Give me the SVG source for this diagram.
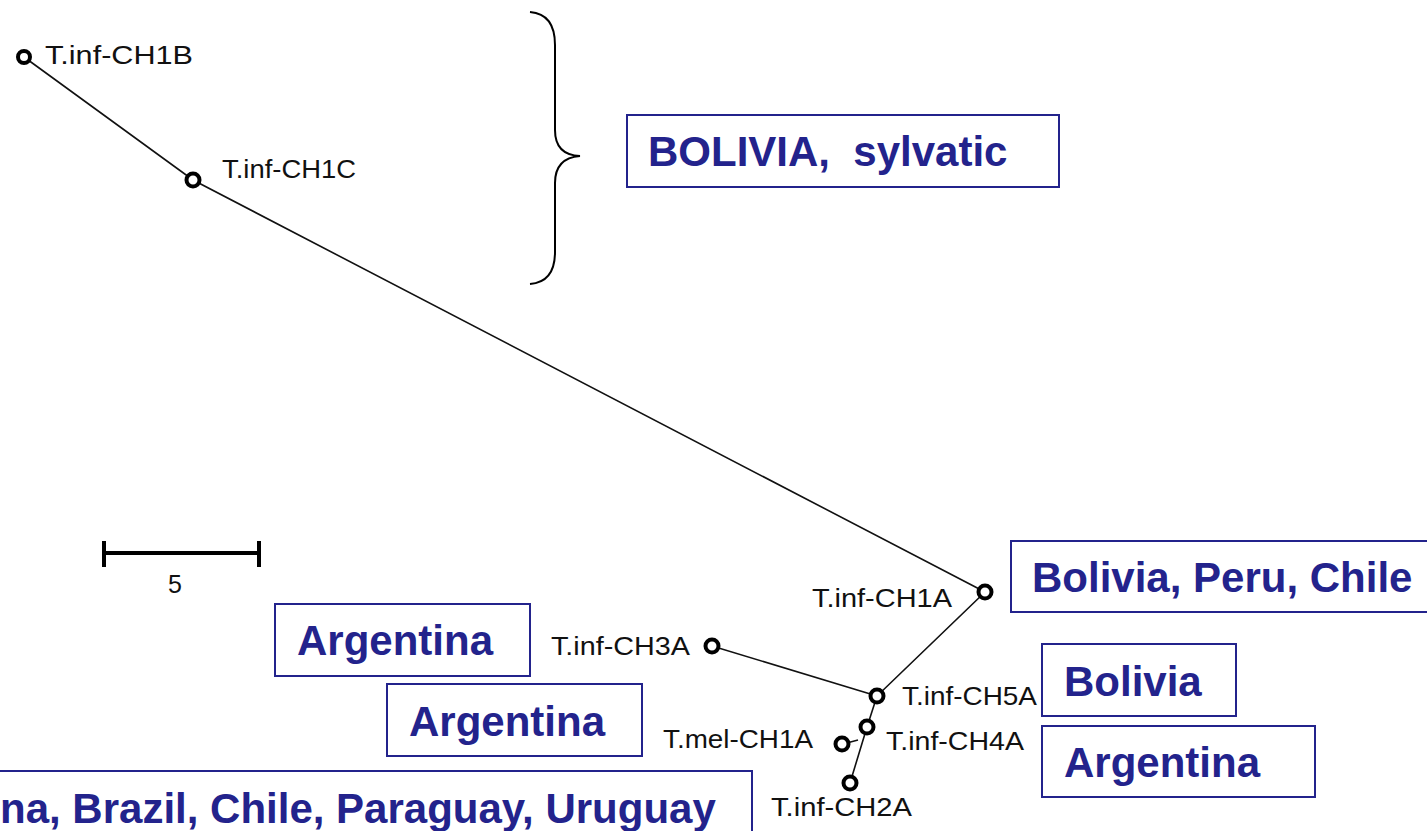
<svg xmlns="http://www.w3.org/2000/svg" width="1427" height="831" viewBox="0 0 1427 831">
<style>
.edge{stroke:#111;stroke-width:1.6;fill:none}
.node{fill:#fff;stroke:#000;stroke-width:4}
.lbl{font-family:"Liberation Sans",Arial,sans-serif;font-size:25px;fill:#111}
.box{fill:#fff;stroke:#23238c;stroke-width:2}
.big{font-family:"Liberation Sans",Arial,sans-serif;font-size:42px;font-weight:bold;fill:#23238c}
</style>
<rect width="1427" height="831" fill="#fff"/>
<g id="connectors">
<path class="edge" d="M24,57 L193,180 L985,592 L877,696"/>
<path class="edge" d="M712,646 L877,696"/>
<path class="edge" d="M877,696 L867,727 L850,783"/>
<path class="edge" d="M843,744 L858,740"/>
</g>
<g id="brace"><path d="M530,12 Q555,14 555,45 L555,130 Q555,155 580,156 Q555,158 555,183 L555,252 Q555,282 530,284" fill="none" stroke="#000" stroke-width="2"/></g>
<g id="scale">
<path d="M103,553 L260,553 M104,541 L104,567 M259,541 L259,567" stroke="#000" stroke-width="4" fill="none"/>
<text class="lbl" x="168" y="593" font-size="20">5</text>
</g>
<g id="n-ch1b"><circle class="node" cx="24" cy="57" r="6"/><text class="lbl" x="45" y="64" textLength="148" lengthAdjust="spacingAndGlyphs">T.inf-CH1B</text></g>
<g id="n-ch1c"><circle class="node" cx="193" cy="180" r="6.5"/><text class="lbl" x="222" y="178" textLength="134" lengthAdjust="spacingAndGlyphs">T.inf-CH1C</text></g>
<g id="n-ch1a"><circle class="node" cx="985" cy="592" r="6.5"/><text class="lbl" x="812" y="607" textLength="140" lengthAdjust="spacingAndGlyphs">T.inf-CH1A</text></g>
<g id="n-ch3a"><circle class="node" cx="712" cy="646" r="6.5"/><text class="lbl" x="551" y="655" textLength="139" lengthAdjust="spacingAndGlyphs">T.inf-CH3A</text></g>
<g id="n-ch5a"><circle class="node" cx="877" cy="696" r="6.5"/><text class="lbl" x="902" y="705" textLength="135" lengthAdjust="spacingAndGlyphs">T.inf-CH5A</text></g>
<g id="n-ch4a"><circle class="node" cx="867" cy="727" r="6.5"/><text class="lbl" x="886" y="750" textLength="138" lengthAdjust="spacingAndGlyphs">T.inf-CH4A</text></g>
<g id="n-mel"><circle class="node" cx="842" cy="744" r="6.5"/><text class="lbl" x="663" y="748" textLength="150" lengthAdjust="spacingAndGlyphs">T.mel-CH1A</text></g>
<g id="n-ch2a"><circle class="node" cx="850" cy="783" r="6.5"/><text class="lbl" x="771" y="816" textLength="141" lengthAdjust="spacingAndGlyphs">T.inf-CH2A</text></g>
<g id="b-bolivia-sylvatic"><rect class="box" x="627" y="115" width="432" height="72"/><text class="big" x="648" y="166" xml:space="preserve">BOLIVIA,  sylvatic</text></g>
<g id="b-bpc"><rect class="box" x="1011" y="541" width="420" height="71"/><text class="big" x="1032" y="592">Bolivia, Peru, Chile</text></g>
<g id="b-arg1"><rect class="box" x="275" y="604" width="255" height="72"/><text class="big" x="297" y="655">Argentina</text></g>
<g id="b-arg2"><rect class="box" x="387" y="684" width="255" height="72"/><text class="big" x="409" y="736">Argentina</text></g>
<g id="b-bolivia"><rect class="box" x="1042" y="644" width="194" height="72"/><text class="big" x="1064" y="696">Bolivia</text></g>
<g id="b-arg3"><rect class="box" x="1042" y="726" width="273" height="71"/><text class="big" x="1064" y="777">Argentina</text></g>
<g id="b-multi"><rect class="box" x="-5" y="771" width="757" height="70"/><text class="big" x="0" y="823">na, Brazil, Chile, Paraguay, Uruguay</text></g>
</svg>
